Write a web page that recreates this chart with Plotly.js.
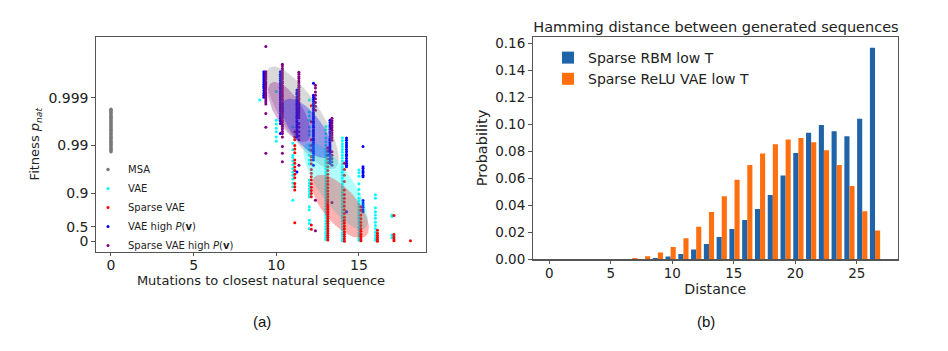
<!DOCTYPE html>
<html><head><meta charset="utf-8">
<script src="https://cdn.plot.ly/plotly-3.0.1.min.js"></script>
<style>html,body{margin:0;padding:0;background:#fff}#chart{width:948px;height:351px}</style>
</head><body><div id="chart"></div>
<script>
// ---------- Panel (a): fitness vs mutations (fitness stored as -log10(1 - p_nat)) ----------
const fitTickP = [0, 0.5, 0.9, 0.99, 0.999];
const fitTickText = ["0", "0.5", "0.9", "0.99", "0.999"];
const mutTicks = [0, 5, 10, 15];

const msaMut = [0];
const msaFit = [[1.87,1.89,1.92,1.94,1.97,1.99,2.02,2.04,2.07,2.09,2.12,2.14,2.17,2.19,2.22,2.24,2.27,2.29,2.32,2.34,2.37,2.39,2.42,2.44,2.47,2.49,2.52,2.54,2.57,2.59,2.62,2.64,2.67,2.69,2.72,2.74,2.76]];

const vaeMut = [9, 10, 11, 12, 13, 14, 15, 16, 17];
const vaeFit = [
  [2.95],
  [3.13, 2.53, 2.45, 2.36, 2.29, 2.18, 2.09],
  [2.39, 2.05, 1.91, 1.80, 1.75, 1.68, 1.60, 1.52, 1.45, 1.38, 1.30, 1.22, 1.14, 0.86],
  [2.95, 2.70, 2.62, 2.53, 2.39, 2.30, 2.22, 2.00, 1.92, 1.80, 1.70, 1.62, 1.28, 1.22, 1.16, 1.10, 1.04, 0.98, 0.93, 0.72, 0.66, 0.44, 0.37, 0.26],
  [2.40,2.33,2.25,2.16,2.08,2.00,1.93,1.87,1.81,1.75,1.69,1.63,1.57,1.51,1.45,1.39,1.33,1.27,1.21,1.15,1.09,1.03,0.97,0.91,0.85,0.79,0.73,0.67,0.61,0.55,0.49,0.43,0.37,0.31,0.25,0.19,0.13,0.08,0.04],
  [2.16,2.10,2.04,1.98,1.92,1.86,1.80,1.74,1.68,1.62,1.56,1.50,1.44,1.38,1.32,1.26,1.20,1.14,1.08,1.02,0.96,0.90,0.84,0.78,0.72,0.66,0.60,0.54,0.48,0.42,0.36,0.30,0.24,0.18,0.12,0.06,0.01],
  [1.49,1.43,1.36,1.20,1.08,0.99,0.90,0.84,0.78,0.72,0.66,0.60,0.54,0.48,0.42,0.36,0.30,0.24,0.18,0.12,0.06,0.02],
  [0.97,0.90,0.70,0.62,0.55,0.48,0.40,0.33,0.26,0.19,0.12,0.06,0.02],
  [0.55,0.52,0.13,0.08]
];

const sparseMut = [11, 12, 13, 14, 15, 16, 17, 18];
const sparseFit = [
  [2.29,2.18,2.12,2.00,1.93,1.85,1.70,1.63,1.55,1.48,1.40,1.33,1.21,1.14,1.07,0.39],
  [2.83,2.50,2.12,2.00,1.90,1.77,1.70,1.62,1.50,1.42,1.35,1.28,1.20,1.13,1.06,1.00,0.93,0.34,0.25],
  [1.95,1.88,1.80,1.72,1.64,1.56,1.48,1.40,1.33,1.26,1.19,1.12,1.05,0.99,0.93,0.87,0.82,0.77,0.72,0.67,0.62,0.57,0.52,0.47,0.42,0.37,0.32,0.27,0.22,0.17,0.12,0.08,0.03],
  [1.63,1.50,1.38,1.25,1.07,0.98,0.90,0.82,0.74,0.66,0.58,0.50,0.44,0.38,0.32,0.26,0.20,0.15,0.10,0.05,0.00],
  [0.72,0.65,0.55,0.47,0.40,0.33,0.27,0.21,0.15,0.10,0.05,0.01],
  [0.23,0.17,0.12,0.08,0.04,0.00],
  [0.54,0.14,0.09,0.05,0.01],
  [0.01]
];

const vaeHighMut = [9, 10, 11, 12, 13, 14, 15];
const vaeHighFit = [
  [3.54,3.50,3.46,3.41,3.37,3.33,3.28,3.24,3.20,3.15,3.10,3.05,3.01],
  [3.54,3.49,3.45,3.40,3.36,3.31,3.27,3.22,3.18,3.13,3.09,3.04,3.00,2.95,2.90,2.86,2.81,2.77,2.72,2.67,2.62,2.57,2.52,2.46,2.25],
  [3.16,3.11,3.07,3.02,2.97,2.93,2.88,2.84,2.79,2.75,2.70,2.66,2.61,2.57,2.52,2.48,2.43,2.38,2.33,2.28,2.23,2.18,1.45],
  [3.30,3.05,3.01,2.96,2.92,2.87,2.83,2.78,2.74,2.69,2.65,2.60,2.56,2.51,2.47,2.42,2.38,2.33,2.29,2.24,2.20,2.15,2.11,2.06,2.02,1.97,1.93,1.88,1.84,1.79,1.75,1.70,1.59],
  [2.53,2.48,2.43,2.39,2.34,2.29,2.25,2.20,2.15,2.11,2.06,2.01,1.97,1.92,1.87,1.82,1.77,1.72,1.67,1.63],
  [2.16,2.11,2.06,2.01,1.97,1.92,1.87,1.82,1.78,1.73,1.68,1.63,1.59,1.56,0.62],
  [1.98,1.56,1.52,1.47,1.43,1.38,1.35,0.85,0.80,0.76,0.71,0.66,0.62]
];

const sparseHighMut = [9, 10, 11, 12, 13];
const sparseHighFit = [
  [4.07,3.54,3.50,3.46,3.42,3.38,3.33,3.29,3.25,3.21,3.17,3.12,3.08,3.04,3.00,2.95,2.91,2.87,2.67,2.38,1.84],
  [3.70,3.66,3.61,3.57,3.52,3.48,3.43,3.39,3.34,3.30,3.25,3.21,3.16,3.12,3.07,3.03,2.98,2.94,2.89,2.85,2.80,2.76,2.71,2.67,2.62,2.58,2.53,2.49,2.44,2.40,2.35,2.30,2.25,2.18,1.98,1.84,1.66],
  [3.53,3.49,3.44,3.40,3.35,3.31,3.26,3.22,3.17,3.13,3.08,3.04,2.99,2.95,2.90,2.86,2.81,2.77,2.72,2.68,2.63,2.58,2.46,2.38,2.29,2.20,2.12,1.59],
  [3.26,3.20,3.12,3.05,2.98,2.90,2.82,2.74,0.86,0.22],
  [2.57,2.52,2.47,2.42,2.37,2.32,2.27,2.22,2.17,2.11,1.87,1.80,1.73,1.66,1.59,0.81]
];

// covariance ellipses (centre, half major axis vector, half minor axis vector) in (mutations, fitness) units
const ellipseNames   = ["ref", "sparseHigh", "vaeHigh", "vae", "sparse"];
const ellipseCenterX = [11.58, 10.78, 11.84, 13.60, 13.88];
const ellipseCenterY = [2.58, 2.70, 2.36, 1.16, 0.73];
const ellipseMajor   = [[1.98, -1.05], [1.07, -0.61], [1.31, -0.59], [1.76, -0.89], [1.54, -0.62]];
const ellipseMinor   = [[0.96, 0.22], [0.72, 0.15], [0.72, 0.19], [0.85, 0.20], [0.78, 0.23]];

// ---------- Panel (b): Hamming distance histogram ----------
const distBinCenters = [0.519,1.558,2.596,3.635,4.673,5.712,6.750,7.788,8.827,9.865,10.904,11.942,12.981,14.019,15.058,16.096,17.135,18.173,19.212,20.250,21.288,22.327,23.365,24.404,25.442,26.481];
const rbmProb = [0,0,0,0,0,0,0,0.0003,0.001,0.002,0.004,0.0072,0.0114,0.0166,0.0225,0.0292,0.0373,0.0477,0.0621,0.0789,0.094,0.0997,0.095,0.0913,0.1044,0.157];
const vaeProb = [0,0,0,0,0,0.0003,0.001,0.0022,0.005,0.0092,0.0156,0.0242,0.0351,0.0467,0.0591,0.070,0.0786,0.0853,0.089,0.090,0.0868,0.0809,0.070,0.0544,0.0356,0.0213];
const distTicks = [0, 5, 10, 15, 20, 25];
const probTicks = [0, 0.02, 0.04, 0.06, 0.08, 0.10, 0.12, 0.14, 0.16];

// ---------- build ----------
const W = 948, H = 351;
const FONT = "DejaVu Sans";
const toFit = p => -Math.log10(1 - p);

function scatterSeries(name, mut, fit, color, dx, size) {
  const xs = [], ys = [];
  mut.forEach((m, i) => fit[i].forEach(v => { xs.push(m + dx); ys.push(v); }));
  return {type: "scatter", mode: "markers", name: name, x: xs, y: ys, xaxis: "x", yaxis: "y",
    legend: "legend", marker: {color: color, size: size, line: {width: 0}}, hoverinfo: "skip"};
}
function ellipseTrace(i, rgba) {
  const xs = [], ys = [];
  for (let k = 0; k <= 72; k++) {
    const a = 2 * Math.PI * k / 72, c = Math.cos(a), s = Math.sin(a);
    xs.push(ellipseCenterX[i] + c * ellipseMajor[i][0] + s * ellipseMinor[i][0]);
    ys.push(ellipseCenterY[i] + c * ellipseMajor[i][1] + s * ellipseMinor[i][1]);
  }
  return {type: "scatter", mode: "lines", x: xs, y: ys, xaxis: "x", yaxis: "y", fill: "toself",
    fillcolor: rgba, line: {width: 0, color: rgba}, showlegend: false, hoverinfo: "skip"};
}

const traces = [
  scatterSeries("MSA", msaMut, msaFit, "#7a7a7a", 0, 3.5),
  scatterSeries("VAE", vaeMut, vaeFit, "#00ffff", 0, 3),
  scatterSeries("Sparse VAE", sparseMut, sparseFit, "#ff0000", 0.12, 3),
  scatterSeries("VAE high <i>P</i>(<b>v</b>)", vaeHighMut, vaeHighFit, "#0000ff", 0.25, 3),
  scatterSeries("Sparse VAE high <i>P</i>(<b>v</b>)", sparseHighMut, sparseHighFit, "#800080", 0.37, 3),
  ellipseTrace(0, "rgba(128,128,128,0.3)"),
  ellipseTrace(3, "rgba(0,255,255,0.3)"),
  ellipseTrace(4, "rgba(255,0,0,0.3)"),
  ellipseTrace(1, "rgba(128,0,128,0.3)"),
  ellipseTrace(2, "rgba(0,0,255,0.3)"),
  {type: "bar", name: "Sparse RBM low T", x: distBinCenters, y: rbmProb, xaxis: "x2", yaxis: "y2",
    legend: "legend2", marker: {color: "#1f63a9", line: {width: 0}}, hoverinfo: "skip"},
  {type: "bar", name: "Sparse ReLU VAE low T", x: distBinCenters, y: vaeProb, xaxis: "x2", yaxis: "y2",
    legend: "legend2", marker: {color: "#ff6e0f", line: {width: 0}}, hoverinfo: "skip"}
];

const axisCommon = {showgrid: false, zeroline: false, showline: true, mirror: true, linecolor: "#555",
  linewidth: 1.2, ticks: "outside", ticklen: 3.5, tickwidth: 1, tickcolor: "#555"};

const layout = {
  width: W, height: H, margin: {l: 0, r: 0, t: 0, b: 0},
  paper_bgcolor: "#fff", plot_bgcolor: "#fff",
  font: {family: FONT, color: "#222", size: 13},
  barmode: "group", bargap: 0.2, bargroupgap: 0,
  showlegend: true,
  xaxis: Object.assign({}, axisCommon, {domain: [96 / W, 426 / W], range: [-0.906, 19.06],
    tickvals: mutTicks, ticktext: mutTicks.map(String), tickfont: {family: FONT, size: 14},
    ticklabelstandoff: -3,
    title: {text: "Mutations to closest natural sequence", font: {size: 13}, standoff: 0}, anchor: "y"}),
  yaxis: Object.assign({}, axisCommon, {domain: [(H - 251.7) / H, (H - 36.7) / H], range: [-0.217, 4.274],
    tickvals: fitTickP.map(toFit), ticktext: fitTickText, tickfont: {family: FONT, size: 14},
    title: {text: "Fitness <i>p</i><sub><i>nat</i></sub>", font: {size: 13}, standoff: 5}, anchor: "x"}),
  xaxis2: Object.assign({}, axisCommon, {domain: [532.7 / W, 898 / W], range: [-1.35, 28.35],
    tickvals: distTicks, ticktext: distTicks.map(String), tickfont: {family: FONT, size: 13.5},
    ticklabelstandoff: -2,
    title: {text: "Distance", font: {size: 14.2}, standoff: 0}, anchor: "y2"}),
  yaxis2: Object.assign({}, axisCommon, {domain: [(H - 259.3) / H, (H - 36.7) / H], range: [0, 0.1652],
    tickvals: probTicks, ticktext: probTicks.map(v => v.toFixed(2)), tickfont: {family: FONT, size: 13.5},
    title: {text: "Probability", font: {size: 14.5}, standoff: 4}, anchor: "x2"}),
  title: {text: "Hamming distance between generated sequences", font: {size: 14.5, color: "#222"},
    x: 716 / W, xanchor: "center", xref: "paper", y: 1 - 27 / H, yanchor: "middle", yref: "paper"},
  legend: {x: 88 / W, y: 1 - 155 / H, xanchor: "left", yanchor: "top", font: {size: 10},
    bgcolor: "rgba(0,0,0,0)", borderwidth: 0, itemwidth: 30},
  legend2: {x: 548 / W, y: 1 - 42 / H, xanchor: "left", yanchor: "top", font: {size: 14},
    bgcolor: "rgba(0,0,0,0)", borderwidth: 0},
  annotations: [
    {text: "(a)", xref: "paper", yref: "paper", x: 262 / W, y: 1 - 321 / H, xanchor: "center", yanchor: "middle",
      showarrow: false, font: {family: "Liberation Sans, Arial", size: 15, color: "#111"}},
    {text: "(b)", xref: "paper", yref: "paper", x: 706 / W, y: 1 - 321 / H, xanchor: "center", yanchor: "middle",
      showarrow: false, font: {family: "Liberation Sans, Arial", size: 15, color: "#111"}}
  ]
};

Plotly.newPlot("chart", traces, layout, {staticPlot: true, displayModeBar: false});
</script></body></html>
